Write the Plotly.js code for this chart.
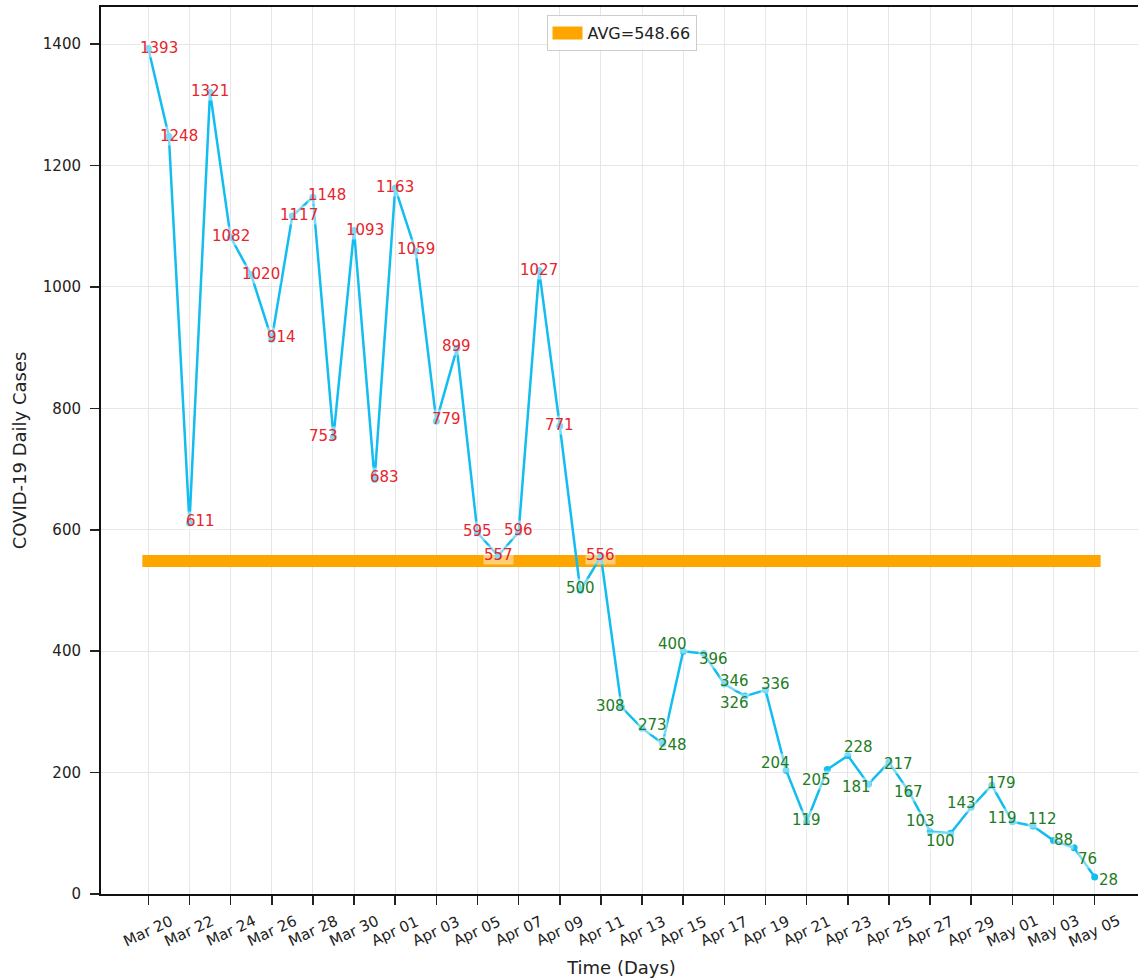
<!DOCTYPE html>
<html>
<head>
<meta charset="utf-8">
<script src="https://cdn.plot.ly/plotly-3.0.1.min.js"></script>
<style>
html,body{margin:0;padding:0;overflow:hidden;background:#fff}
.legend .legendlines path{stroke-width:13px !important;}
</style>
</head>
<body>
<div id="chart" style="width:1142px;height:980px"></div>
<script>
// ---- data ----
const dates = [
  '2020-03-20','2020-03-21','2020-03-22','2020-03-23','2020-03-24','2020-03-25','2020-03-26',
  '2020-03-27','2020-03-28','2020-03-29','2020-03-30','2020-03-31',
  '2020-04-01','2020-04-02','2020-04-03','2020-04-04','2020-04-05','2020-04-06','2020-04-07',
  '2020-04-08','2020-04-09','2020-04-10','2020-04-11','2020-04-12','2020-04-13','2020-04-14',
  '2020-04-15','2020-04-16','2020-04-17','2020-04-18','2020-04-19','2020-04-20','2020-04-21',
  '2020-04-22','2020-04-23','2020-04-24','2020-04-25','2020-04-26','2020-04-27','2020-04-28',
  '2020-04-29','2020-04-30',
  '2020-05-01','2020-05-02','2020-05-03','2020-05-04','2020-05-05'
];
const cases = [
  1393,1248,611,1321,1082,1020,914,1117,1148,753,1093,683,
  1163,1059,779,899,595,557,596,1027,771,500,556,308,273,248,400,396,346,326,336,204,119,
  205,228,181,217,167,103,100,143,179,
  119,112,88,76,28
];
const tickDates = [
  '2020-03-20','2020-03-22','2020-03-24','2020-03-26','2020-03-28','2020-03-30',
  '2020-04-01','2020-04-03','2020-04-05','2020-04-07','2020-04-09','2020-04-11',
  '2020-04-13','2020-04-15','2020-04-17','2020-04-19','2020-04-21','2020-04-23',
  '2020-04-25','2020-04-27','2020-04-29','2020-05-01','2020-05-03','2020-05-05'
];
const tickLabels = [
  'Mar 20','Mar 22','Mar 24','Mar 26','Mar 28','Mar 30',
  'Apr 01','Apr 03','Apr 05','Apr 07','Apr 09','Apr 11',
  'Apr 13','Apr 15','Apr 17','Apr 19','Apr 21','Apr 23',
  'Apr 25','Apr 27','Apr 29','May 01','May 03','May 05'
];
// label nudges in pixels (right / down), relative to each point
const labelDx = [11,10,11,0,0,10,10,7,14,-10,11,10,0,0,10,0,0,0,0,0,0,0,0,-11,10,10,-11,10,10,-10,10,-11,0,-11,11,-12,10,-1,-10,-10,-10,10,-10,10,10,13,14];
const labelDy = [0,0,-2,-1,-1,-1,-2,-1,-2,-1,-1,-2,-1,-2,-2,-2,-2,-1,-2,-1,-1,-2,-2,-1,-3,2,-7,5,-3,7,-6,-7,-2,10,-9,3,2,-1,-10,8,-4,-2,-4,-7,-1,11,3];

// ---- derived ----
const avg = cases.reduce((a, b) => a + b, 0) / cases.length;
const avgText = 'AVG=' + avg.toFixed(2);
const DAY = 86400000;
const tFirst = Date.parse(dates[0] + 'T00:00:00Z');
const tLast = Date.parse(dates[dates.length - 1] + 'T00:00:00Z');
const span = (tLast - tFirst);
const xRange = [tFirst - 0.05 * span, tLast + 0.05 * span];
const yMax = Math.max(...cases), yMin = Math.min(...cases);
const yRange = [0, yMax + 0.05 * (yMax - yMin)];
// the average bar has projecting caps (half its thickness past each end)
const capDays = 0.29;

const RED = '#e8242c', GREEN = '#1e7b1e', BLUE = '#12bdf0', ORANGE = '#ffa500', INK = '#222222';
const FONT = 'DejaVu Sans, Liberation Sans, sans-serif';

const traces = [
  {
    x: [tFirst - capDays * DAY, tLast + capDays * DAY],
    y: [avg, avg],
    mode: 'lines',
    line: {color: ORANGE, width: 12},
    name: avgText,
    showlegend: true,
    hoverinfo: 'skip'
  },
  {
    x: dates,
    y: cases,
    mode: 'lines+markers',
    line: {color: BLUE, width: 2.5},
    marker: {color: BLUE, size: 7},
    showlegend: false,
    name: 'Daily cases'
  }
];

const annotations = [];
cases.forEach((v, i) => {
  annotations.push({
    x: dates[i], y: v, xref: 'x', yref: 'y',
    text: String(v), showarrow: false,
    xanchor: 'center', yanchor: 'middle',
    xshift: labelDx[i], yshift: -labelDy[i],
    font: {family: FONT, size: 15, color: v > avg ? RED : GREEN},
    bgcolor: 'rgba(255,255,255,0.45)', borderpad: 0
  });
});
tickDates.forEach((d, k) => {
  annotations.push({
    x: d, y: 0, xref: 'x', yref: 'paper',
    text: tickLabels[k], showarrow: false, textangle: -25,
    xanchor: 'center', yanchor: 'middle', yshift: -37,
    font: {family: FONT, size: 15, color: INK}
  });
});

const layout = {
  width: 1142, height: 980,
  margin: {l: 101, r: 0, t: 7, b: 86, pad: 0},
  paper_bgcolor: '#ffffff', plot_bgcolor: '#ffffff',
  font: {family: FONT, size: 15, color: INK},
  showlegend: true,
  legend: {
    x: 0.5, xanchor: 'center', y: 0.991, yanchor: 'top',
    bgcolor: 'rgba(255,255,255,0.85)', bordercolor: '#cccccc', borderwidth: 1,
    font: {family: FONT, size: 16, color: INK}
  },
  xaxis: {
    type: 'date', range: xRange, autorange: false,
    tickmode: 'array', tickvals: tickDates, ticktext: tickDates.map(() => ''),
    showticklabels: false,
    ticks: 'outside', ticklen: 9, tickwidth: 1.6, tickcolor: INK,
    showline: true, linecolor: '#111111', linewidth: 2, mirror: true,
    showgrid: true, gridcolor: '#e6e6e6', gridwidth: 1, zeroline: false,
    title: {text: 'Time (Days)', font: {family: FONT, size: 18, color: INK}, standoff: 57}
  },
  yaxis: {
    range: yRange, autorange: false,
    tickmode: 'linear', tick0: 0, dtick: 200,
    ticks: 'outside', ticklen: 9, tickwidth: 1.6, tickcolor: INK,
    ticklabelstandoff: 6,
    tickfont: {family: FONT, size: 15, color: INK},
    showline: true, linecolor: '#111111', linewidth: 2, mirror: true,
    showgrid: true, gridcolor: '#e6e6e6', gridwidth: 1, zeroline: false,
    title: {text: 'COVID-19 Daily Cases', font: {family: FONT, size: 18, color: INK}, standoff: 12}
  },
  annotations: annotations
};

Plotly.newPlot('chart', traces, layout, {displayModeBar: false, responsive: false, staticPlot: true});
</script>
</body>
</html>
